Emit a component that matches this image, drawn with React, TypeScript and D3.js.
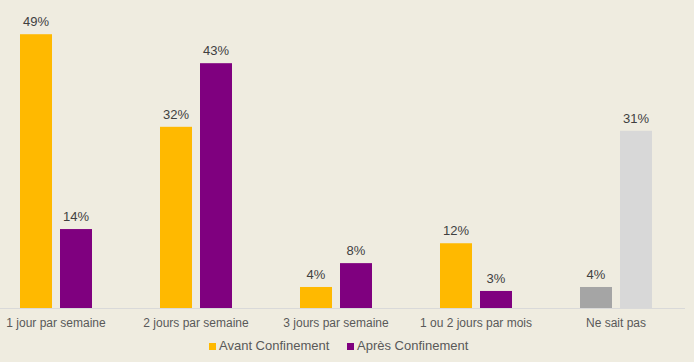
import { useEffect, useRef } from 'react'
import * as d3 from 'd3'

const CATEGORIES = ['1 jour par semaine', '2 jours par semaine', '3 jours par semaine', '1 ou 2 jours par mois', 'Ne sait pas']
const AVANT = [48.2, 31.9, 3.7, 11.4, 3.7]
const APRES = [13.9, 43.1, 7.9, 3.0, 31.2]
const AVANT_LABELS = ['49%', '32%', '4%', '12%', '4%']
const APRES_LABELS = ['14%', '43%', '8%', '3%', '31%']
const SERIES = ['Avant Confinement', 'Après Confinement']

const BG = '#EFECE0'
const ORANGE = '#FFB900'
const PURPLE = '#7F007F'
const GRAY_DARK = '#A5A5A5'
const GRAY_LIGHT = '#D8D8D8'

export default function App() {
  const svgRef = useRef<SVGSVGElement>(null)

  useEffect(() => {
    document.body.style.margin = '0'
    if (!svgRef.current) return
    const svg = d3.select(svgRef.current)
    svg.selectAll('*').remove()

    const W = 694
    const H = 362
    const baseY = 308
    const font = 'Liberation Sans, Arial, sans-serif'

    svg.append('rect').attr('width', W).attr('height', H).attr('fill', BG)

    const x = d3.scaleBand().domain(CATEGORIES).range([-14, 686]).padding(0)
    const y = d3.scaleLinear().domain([0, 50]).range([baseY, baseY - 284])
    const barW = 32
    const offset = 20

    const colorFor = (s: number, i: number) => {
      const last = i === CATEGORIES.length - 1
      if (s === 0) return last ? GRAY_DARK : ORANGE
      return last ? GRAY_LIGHT : PURPLE
    }

    const g = svg.append('g')
    ;[AVANT, APRES].forEach((vals, s) => {
      const labels = s === 0 ? AVANT_LABELS : APRES_LABELS
      vals.forEach((v, i) => {
        const cx = (x(CATEGORIES[i]) ?? 0) + x.bandwidth() / 2 + (s === 0 ? -offset : offset)
        g.append('rect')
          .attr('x', cx - barW / 2).attr('y', y(v))
          .attr('width', barW).attr('height', baseY - y(v))
          .attr('fill', colorFor(s, i))
        g.append('text')
          .attr('x', cx).attr('y', y(v) - 8)
          .attr('text-anchor', 'middle').attr('font-family', font)
          .attr('font-size', '13px').attr('fill', '#404040')
          .text(labels[i])
      })
    })

    // baseline
    svg.append('line')
      .attr('x1', 0).attr('x2', 685).attr('y1', baseY + 0.5).attr('y2', baseY + 0.5)
      .attr('stroke', '#D9D9D9').attr('stroke-width', 1)

    // category labels
    CATEGORIES.forEach((c) => {
      svg.append('text')
        .attr('x', (x(c) ?? 0) + x.bandwidth() / 2).attr('y', 327)
        .attr('text-anchor', 'middle').attr('font-family', font)
        .attr('font-size', '12px').attr('fill', '#595959')
        .text(c)
    })

    // legend
    const legendX = [209, 347]
    SERIES.forEach((name, s) => {
      svg.append('rect')
        .attr('x', legendX[s]).attr('y', 343)
        .attr('width', 7).attr('height', 7)
        .attr('fill', s === 0 ? ORANGE : PURPLE)
      svg.append('text')
        .attr('x', legendX[s] + 10).attr('y', 350)
        .attr('font-family', font).attr('font-size', '13px').attr('fill', '#595959')
        .text(name)
    })
  }, [])

  return (
    <div style={{ position: 'absolute', left: 0, top: 0 }}>
      <svg ref={svgRef} width={694} height={362} style={{ display: 'block' }} />
    </div>
  )
}
